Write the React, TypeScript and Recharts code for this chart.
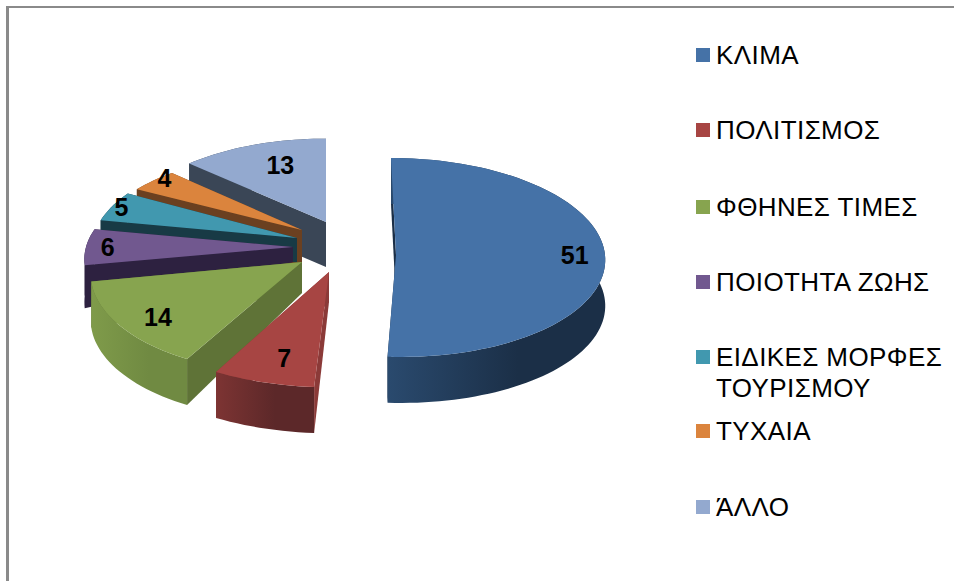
import React from 'react'
import { PieChart, Pie, Legend } from 'recharts'

const categories = [
  'ΚΛΙΜΑ',
  'ΠΟΛΙΤΙΣΜΟΣ',
  'ΦΘΗΝΕΣ ΤΙΜΕΣ',
  'ΠΟΙΟΤΗΤΑ ΖΩΗΣ',
  'ΕΙΔΙΚΕΣ ΜΟΡΦΕΣ ΤΟΥΡΙΣΜΟΥ',
  'ΤΥΧΑΙΑ',
  'ΆΛΛΟ',
]
const values = [51, 7, 14, 6, 5, 4, 13]

const topColors = ['#4572A7', '#A74543', '#87A44F', '#71588F', '#4198AF', '#DB843D', '#93A9CF']
const wallColors = [
  ['#2A4A6E', '#1B2F47'],
  ['#7D3433', '#5C2829'],
  ['#7F9B4A', '#708A42'],
  ['#2D2140', '#2D2140'],
  ['#183A45', '#183A45'],
  ['#6B4020', '#6B4020'],
  ['#3A4656', '#3A4656'],
]
const cutColors = ['#1B2F47', '#8B3A38', '#5F7337', '#2D2140', '#183A45', '#6B4020', '#3A4656']

// hand fitted perspective of each exploded slice, same order as categories
const sliceFits = [
  { dx: 94, dy: -7, rx: 209, ry: 99.4, k: 0.025, shear: -5, depth: 46, tipDepth: 46 },
  { dx: 27, dy: 10, rx: 218, ry: 106, k: 0.08, shear: 0, depth: 46, tipDepth: 30 },
  { dx: 0, dy: 0, rx: 210, ry: 103, k: 0.08, shear: 7, depth: 46, tipDepth: 31 },
  { dx: -9, dy: -15, rx: 207, ry: 96, k: 0.08, shear: 10, depth: 43, tipDepth: 15 },
  { dx: -5, dy: -24, rx: 204, ry: 96, k: 0.08, shear: 6, depth: 40, tipDepth: 24 },
  { dx: 0, dy: -32, rx: 206, ry: 88, k: 0.08, shear: 18, depth: 40, tipDepth: 45 },
  { dx: 24, dy: -40, rx: 198, ry: 90, k: 0.08, shear: 0, depth: 45, tipDepth: 45 },
]

// where each value label sits in its slice: clockwise degrees from the top, fraction of radius
const labelAngles = [90, 194.2, 231.6, 270, 290.3, 309.2, 340]
const labelRadii = [0.855, 0.773, 0.811, 0.895, 0.953, 0.979, 0.725]

const legendTops = [48, 123, 200, 275, 350, 424, 500]

// painted back to front, so the table runs counterclockwise from the last category
const tableData = categories.map((name, i) => ({ name, value: values[i] })).reverse()

const WIDTH = 954
const HEIGHT = 581
const FONT = '"Liberation Sans", Arial, sans-serif'

type Fit = (typeof sliceFits)[number]

const project = (cx: number, cy: number, fit: Fit, theta: number, f = 1) => {
  const rad = (theta * Math.PI) / 180
  const u = Math.sin(rad)
  const v = Math.cos(rad)
  const s = 1 / (1 + fit.k * v)
  return {
    x: cx + fit.dx + f * (fit.rx * u * s + fit.shear * v),
    y: cy + fit.dy - f * fit.ry * v * s,
  }
}

const toPath = (pts: { x: number; y: number }[]) =>
  pts.map((p, i) => `${i ? 'L' : 'M'}${p.x.toFixed(2)} ${p.y.toFixed(2)}`).join(' ') + ' Z'

const Slice3D = (props: any) => {
  const { cx, cy, startAngle, endAngle, name } = props
  const idx = categories.indexOf(name)
  const fit = sliceFits[idx]
  // recharts angles run counterclockwise from 3 o'clock
  const t0 = 90 - startAngle
  const t1 = 90 - endAngle
  const steps = Math.max(4, Math.ceil(Math.abs(t1 - t0) / 2))
  const rim: { x: number; y: number }[] = []
  for (let i = 0; i <= steps; i++) {
    rim.push(project(cx, cy, fit, t0 + ((t1 - t0) * i) / steps))
  }
  const tip = project(cx, cy, fit, 0, 0)
  const down = (p: { x: number; y: number }, d: number) => ({ x: p.x, y: p.y + d })
  const wall = [...rim, ...rim.map((p) => down(p, fit.depth)).reverse()]
  const cut = (p: { x: number; y: number }) => [tip, p, down(p, fit.depth), down(tip, fit.tipDepth)]
  const gradId = `wall-${idx}`
  return (
    <g>
      <defs>
        <linearGradient id={gradId} x1="0" y1="0" x2="1" y2="0">
          <stop offset="0%" stopColor={wallColors[idx][0]} />
          <stop offset="60%" stopColor={wallColors[idx][1]} />
        </linearGradient>
      </defs>
      <path d={toPath(cut(rim[0]))} fill={cutColors[idx]} />
      <path d={toPath(cut(rim[rim.length - 1]))} fill={cutColors[idx]} />
      <path d={toPath(wall)} fill={`url(#${gradId})`} />
      <path d={toPath([tip, ...rim])} fill={topColors[idx]} />
    </g>
  )
}

const renderLabel = (props: any) => {
  const idx = categories.indexOf(props.name)
  const p = project(props.cx, props.cy, sliceFits[idx], labelAngles[idx], labelRadii[idx])
  return (
    <text
      key={props.name}
      x={p.x}
      y={p.y}
      textAnchor="middle"
      dominantBaseline="central"
      fontFamily={FONT}
      fontWeight="bold"
      fontSize={25}
      fill="#000"
    >
      {props.value}
    </text>
  )
}

const renderLegend = () => (
  <div style={{ position: 'relative', width: WIDTH, height: HEIGHT, fontFamily: FONT }}>
    {categories.map((name, i) => (
      <div key={name}>
        <div
          style={{
            position: 'absolute',
            left: 696,
            top: legendTops[i],
            width: 14,
            height: 14,
            background: topColors[i],
          }}
        />
        <div
          style={{
            position: 'absolute',
            left: 716,
            top: legendTops[i] - 8,
            width: 236,
            fontSize: 26,
            lineHeight: '31px',
            letterSpacing: 0.4,
            color: '#000',
          }}
        >
          {name}
        </div>
      </div>
    ))}
  </div>
)

export default function App() {
  return (
    <div
      style={{
        position: 'absolute',
        left: 0,
        top: 0,
        width: WIDTH,
        height: HEIGHT,
        overflow: 'hidden',
        background: '#fff',
      }}
    >
      <div
        style={{
          position: 'absolute',
          left: 6,
          top: 6,
          width: WIDTH,
          height: HEIGHT,
          borderLeft: '3px solid #8a8a8a',
          borderTop: '2px solid #8a8a8a',
        }}
      />
      <PieChart
        width={WIDTH}
        height={HEIGHT}
        margin={{ top: 0, right: 0, bottom: 0, left: 0 }}
        style={{ position: 'absolute', left: 0, top: 0 }}
      >
        <Pie
          data={tableData}
          dataKey="value"
          nameKey="name"
          cx={302}
          cy={262}
          outerRadius={215}
          startAngle={90}
          endAngle={450}
          stroke="none"
          shape={Slice3D}
          label={renderLabel}
          labelLine={false}
          isAnimationActive={false}
        />
        <Legend
          content={renderLegend}
          wrapperStyle={{ position: 'absolute', left: 0, top: 0, width: WIDTH, height: HEIGHT }}
        />
      </PieChart>
    </div>
  )
}
